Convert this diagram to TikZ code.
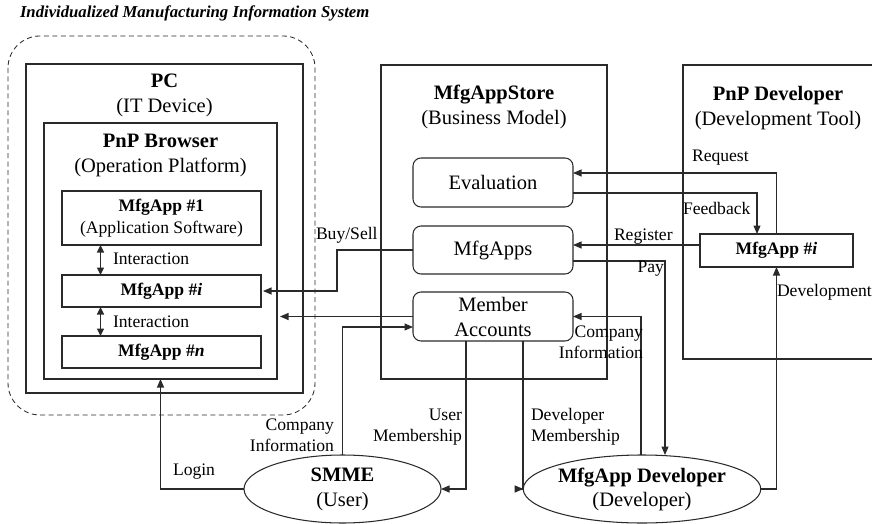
\documentclass[tikz,border=0pt]{standalone}
\usepackage{fontspec}
\setmainfont{Liberation Serif}
\usetikzlibrary{arrows.meta,calc,shapes.geometric}
\definecolor{ink}{HTML}{2a2a2a}
\tikzset{
  every node/.style={inner sep=0pt, outer sep=0pt},
  bigtxt/.style={font=\fontsize{20.5}{25}\selectfont},
  smalltxt/.style={font=\fontsize{17.6}{21}\selectfont},
  plainbox/.style={draw=ink, line width=1.05pt, rectangle},
  roundbox/.style={plainbox, rounded corners=8pt, minimum width=160, bigtxt, align=center},
  appbox/.style={plainbox, minimum width=199, smalltxt, align=center},
  actor/.style={draw=ink, line width=1.05pt, ellipse, bigtxt, align=center},
  titletxt/.style={bigtxt, align=center},
  lab/.style={smalltxt},
  conn/.style={draw=ink, line width=1.05pt, -{Triangle[length=8.5pt,width=7pt]}},
  twoway/.style={draw=ink, line width=1.05pt, {Triangle[length=7.5pt,width=7pt]}-{Triangle[length=7.5pt,width=7pt]}},
}
\begin{document}
\begin{tikzpicture}[x=1pt, y=-1pt]
\useasboundingbox (0,0) rectangle (872,524);

% heading
\node[anchor=west, font=\bfseries\itshape\fontsize{16.7}{18}\selectfont] (heading) at (20,13)
  {Individualized Manufacturing Information System};

% dashed client-side frame
\draw[ink, line width=0.85pt, dash pattern=on 5pt off 3.5pt, rounded corners=32pt]
  (8,36) rectangle (315,415);

% PC with PnP Browser and its apps
\node[plainbox, minimum width=277, minimum height=329] (pc) at (164.5,228.5) {};
\node[titletxt] (pctitle) at (164.5,95) {\textbf{PC}\\(IT Device)};
\node[plainbox, minimum width=233, minimum height=256] (browser) at (160.5,251) {};
\node[titletxt] (browsertitle) at (160.5,155) {\textbf{PnP Browser}\\(Operation Platform)};
\node[appbox, minimum height=54, font=\fontsize{17.6}{22}\selectfont] (app1) at (161.5,218)
  {\textbf{MfgApp \#1}\\(Application Software)};
\node[appbox, minimum height=32] (appi) at (161.5,291) {\textbf{MfgApp \#\textit{i}}};
\node[appbox, minimum height=32] (appn) at (161.5,352) {\textbf{MfgApp \#\textit{n}}};

\draw[twoway] ([xshift=38.5pt]app1.south west) -- ([xshift=38.5pt]appi.north west);
\draw[twoway] ([xshift=38.5pt]appi.south west) -- ([xshift=38.5pt]appn.north west);
\node[lab, anchor=west] (inter1) at (113,259) {Interaction};
\node[lab, anchor=west] (inter2) at (113,322) {Interaction};

% MfgAppStore
\node[plainbox, minimum width=226, minimum height=314] (store) at (494,222) {};
\node[titletxt] (storetitle) at (494,107) {\textbf{MfgAppStore}\\(Business Model)};
\node[roundbox, minimum height=49] (eval) at (493,182.5) {Evaluation};
\node[roundbox, minimum height=48] (apps) at (493,250) {MfgApps};
\node[roundbox, minimum height=49] (accounts) at (493,316.5) {Member\\Accounts};

% PnP Developer
\node[plainbox, minimum width=192, minimum height=294] (devtool) at (779,212) {};
\node[titletxt] (devtitle) at (778,108) {\textbf{PnP Developer}\\(Development Tool)};
\node[plainbox, minimum width=153, minimum height=33, smalltxt] (devapp) at (776.5,250.5)
  {\textbf{MfgApp \#\textit{i}}};

% actors
\node[actor, minimum width=197, minimum height=68] (smme) at (342.5,489)
  {\textbf{SMME}\\(User)};
\node[actor, minimum width=194, minimum height=68, font=\fontsize{20.5}{24}\selectfont] (mdev) at (642,489)
  {\textbf{MfgApp Developer}\\(Developer)};

% column positions of vertical runs
\coordinate (buyx) at (337,0);
\coordinate (payx) at (665,0);
\coordinate (cinfox) at (641,0);
\coordinate (userx) at (466,0);
\coordinate (devmx) at (523,0);

% store <-> developer tool
\draw[conn] (devapp.north) |- ([yshift=9.5pt]eval.east);
\draw[conn] ([yshift=-10.5pt]eval.east) -| ([xshift=-19.5pt]devapp.north);
\draw[conn] ([yshift=5.5pt]devapp.west) -- ([yshift=5.5pt]devapp.west -| apps.east);
\draw[conn] ([yshift=-11pt]apps.east) -| (payx |- mdev.north);
\draw[conn] (cinfox |- mdev.north) |- (accounts.east);
\draw[conn] (mdev.east) -| (devapp.south);

% store <-> browser / users
\draw[conn, shorten >=2pt] (apps.west) -| (buyx |- appi.east) -- (appi.east);
\draw[conn, shorten >=3pt] (accounts.west) -- (accounts.west -| browser.east);
\draw[conn] (smme.north) |- ([yshift=-10.5pt]accounts.west);
\draw[conn] (userx |- accounts.south) |- (smme.east);
\draw[conn] (devmx |- accounts.south) |- (mdev.west);
\draw[conn] (smme.west) -| (browser.south);

% connector labels
\node[lab, anchor=west] (lbuy) at (316,235) {Buy/Sell};
\node[lab, anchor=west] (lreq) at (692,158) {Request};
\node[lab, anchor=west] (lfeed) at (683,208) {Feedback};
\node[lab, anchor=west] (lreg) at (614,237) {Register};
\node[lab, anchor=east] (lpay) at (664,269) {Pay};
\node[lab, anchor=east, align=right] (lcinfo2) at (643,342) {Company\\Information};
\node[lab, anchor=west] (ldevel) at (777,292) {Development};
\node[lab, anchor=east, align=right] (luser) at (462,427) {User\\Membership};
\node[lab, anchor=west, align=left] (ldevm) at (531,427) {Developer\\Membership};
\node[lab, anchor=east, align=right] (lcinfo1) at (334,435) {Company\\Information};
\node[lab, anchor=west] (llogin) at (173,472) {Login};
\end{tikzpicture}
\end{document}
